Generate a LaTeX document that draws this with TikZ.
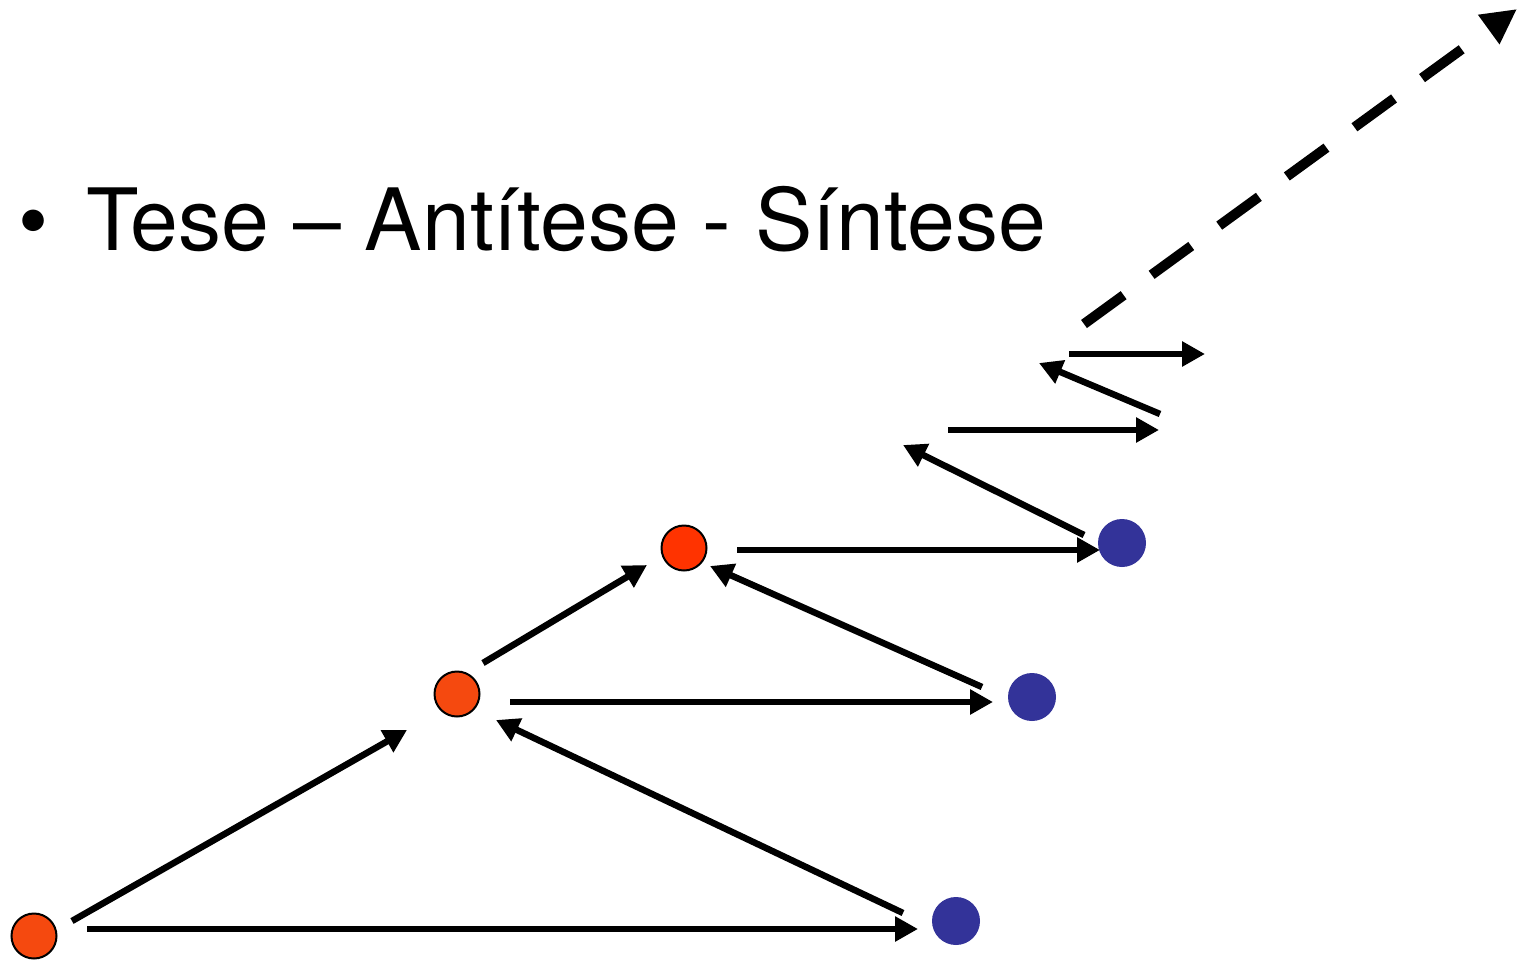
\documentclass[tikz,border=0pt]{standalone}
\usepackage{fontspec}
\setmainfont{TeX Gyre Heros}
\usetikzlibrary{arrows.meta}
\definecolor{redA}{HTML}{F5490F}
\definecolor{redB}{HTML}{FF3300}
\definecolor{blueA}{HTML}{333399}
\tikzset{
  thesis/.style={circle, draw=black, line width=2pt, minimum size=45pt, inner sep=0pt},
  anti/.style={circle, fill=blueA, minimum size=48pt, inner sep=0pt},
  conn/.style={line width=6.5pt, -{Triangle[length=23pt,width=24pt]}},
  bigconn/.style={line width=10pt, dash pattern=on 49pt off 34.6pt, -{Triangle[length=35pt,width=34pt]}},
  title/.style={font=\fontsize{86}{100}\selectfont, inner sep=0pt, anchor=base west}
}
\begin{document}
\begin{tikzpicture}[x=1pt,y=-1pt]
\useasboundingbox[fill=white] (0,0) rectangle (1522,961);
% title
\node[title] (bul) at (18,250) {•};
\node[title] (ttl) at (86,250) {Tese – Antítese - Síntese};
% circles
\node[thesis, fill=redA] (R1) at (34,936) {};
\node[thesis, fill=redA] (R2) at (457,694) {};
\node[thesis, fill=redB] (R3) at (684,548) {};
\node[anti] (B1) at (956,921) {};
\node[anti] (B2) at (1032,697) {};
\node[anti] (B3) at (1122,543) {};
% arrow end points
\coordinate (a1s) at (87,929);   \coordinate (a1e) at (918,929);
\coordinate (a2s) at (72,921);   \coordinate (a2e) at (407,730);
\coordinate (a3s) at (903,913);  \coordinate (a3e) at (496,720);
\coordinate (a4s) at (510,702);  \coordinate (a4e) at (993,702);
\coordinate (a5s) at (483,663);  \coordinate (a5e) at (647,565);
\coordinate (a6s) at (982,687);  \coordinate (a6e) at (710,566);
\coordinate (a7s) at (737,550);  \coordinate (a7e) at (1100,550);
\coordinate (a8s) at (1084,535); \coordinate (a8e) at (903,445);
\coordinate (a9s) at (948,430);  \coordinate (a9e) at (1159,430);
\coordinate (a10s) at (1160,414); \coordinate (a10e) at (1039,363);
\coordinate (a11s) at (1069,354); \coordinate (a11e) at (1205,354);
\coordinate (a12s) at (1084,324); \coordinate (a12e) at (1517,9);
% connectors
\draw[conn] (a1s) -- (a1e);
\draw[conn] (a2s) -- (a2e);
\draw[conn] (a3s) -- (a3e);
\draw[conn] (a4s) -- (a4e);
\draw[conn] (a5s) -- (a5e);
\draw[conn] (a6s) -- (a6e);
\draw[conn] (a7s) -- (a7e);
\draw[conn] (a8s) -- (a8e);
\draw[conn] (a9s) -- (a9e);
\draw[conn] (a10s) -- (a10e);
\draw[conn] (a11s) -- (a11e);
\draw[bigconn] (a12s) -- (a12e);
\end{tikzpicture}
\end{document}
